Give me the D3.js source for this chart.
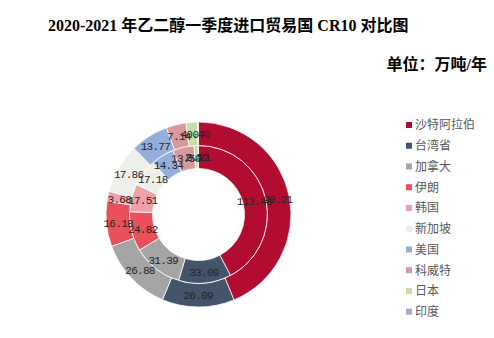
<!DOCTYPE html>
<html>
<head>
<meta charset="utf-8">
<script src="https://cdn.jsdelivr.net/npm/d3@7"></script>
<style>
  body { margin: 0; background: #fff; }
  svg { display: block; }
</style>
</head>
<body>
<div id="chart"></div>
<script>
// Chart data
const countries = ['沙特阿拉伯', '台湾省', '加拿大', '伊朗', '韩国', '新加坡', '美国', '科威特', '日本', '印度'];
const innerValues = [113.40, 33.09, 31.39, 24.82, 17.51, 17.18, 14.34, 13.50, 2.52, 0.21];
const outerValues = [90.21, 26.09, 26.88, 16.18, 3.68, 17.86, 13.77, 7.14, 4.07, 0.40];
const colors = ['#B20D30', '#44546A', '#A5A5A5', '#E9505A', '#F0A0A8', '#EEEEEA', '#95AEDC', '#D9989C', '#C5DDA8', '#A8A8C8'];

const width = 494, height = 338;
const cx = 198.5, cy = 214.5;
const holeR = 46, midR = 69, outerR = 92.5;

const svg = d3.select('#chart').append('svg')
  .attr('width', width)
  .attr('height', height);

// Title and unit
svg.append('text')
  .attr('x', 48).attr('y', 31)
  .attr('font-family', '"Liberation Serif", "Noto Sans CJK SC", serif')
  .attr('font-size', 16)
  .attr('font-weight', 'bold')
  .attr('fill', '#000')
  .text('2020-2021 年乙二醇一季度进口贸易国 CR10 对比图');

svg.append('text')
  .attr('x', 487).attr('y', 70)
  .attr('text-anchor', 'end')
  .attr('font-family', '"Liberation Serif", "Noto Sans CJK SC", serif')
  .attr('font-size', 16)
  .attr('font-weight', 'bold')
  .attr('fill', '#000')
  .text('单位：万吨/年');

const color = d3.scaleOrdinal().domain(countries).range(colors);

const pie = d3.pie().sort(null).value(d => d.value);

const g = svg.append('g').attr('transform', `translate(${cx},${cy})`);

function drawRing(values, r0, r1, cls) {
  const data = countries.map((c, i) => ({ name: c, value: values[i] }));
  const arcs = pie(data);
  const arc = d3.arc().innerRadius(r0).outerRadius(r1);
  const ring = g.append('g').attr('class', cls);

  ring.selectAll('path')
    .data(arcs)
    .join('path')
    .attr('d', arc)
    .attr('fill', d => color(d.data.name))
    .attr('stroke', '#fff')
    .attr('stroke-width', 0.75);

  return { arcs, arc };
}

const inner = drawRing(innerValues, holeR, midR, 'ring-inner');
const outer = drawRing(outerValues, midR, outerR, 'ring-outer');

// Data labels, drawn after both rings so they sit on top
[inner, outer].forEach(({ arcs, arc }) => {
  g.append('g').selectAll('text')
    .data(arcs)
    .join('text')
    .attr('transform', d => `translate(${arc.centroid(d)})`)
    .attr('text-anchor', 'middle')
    .attr('dy', '0.35em')
    .attr('font-family', '"Liberation Mono", "DejaVu Sans Mono", monospace')
    .attr('font-size', 11)
    .attr('letter-spacing', -0.7)
    .attr('fill', '#262626')
    .text(d => d.data.value.toFixed(2));
});

// Legend
const legend = svg.append('g')
  .attr('transform', 'translate(406,125)');

const legendY = d3.scalePoint()
  .domain(countries)
  .range([0, 186.7]);

const items = legend.selectAll('g')
  .data(countries)
  .join('g')
  .attr('transform', d => `translate(0,${legendY(d)})`);

items.append('rect')
  .attr('x', 0).attr('y', -3)
  .attr('width', 6).attr('height', 6)
  .attr('fill', d => color(d));

items.append('text')
  .attr('x', 9)
  .attr('dy', '0.36em')
  .attr('font-family', '"Noto Sans CJK SC", sans-serif')
  .attr('font-size', 12)
  .attr('fill', '#595959')
  .text(d => d);
</script>
</body>
</html>
